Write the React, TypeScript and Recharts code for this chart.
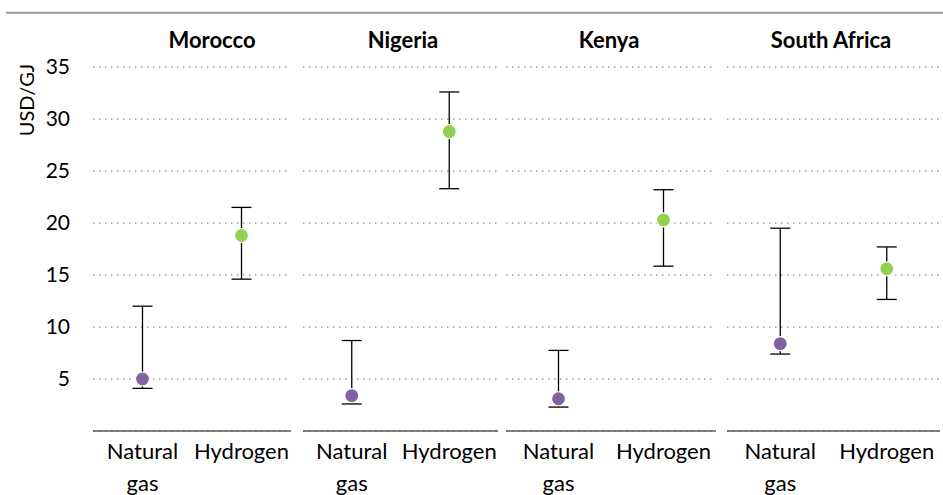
import React from "react";
import {
  ScatterChart,
  Scatter,
  XAxis,
  YAxis,
  CartesianGrid,
  ErrorBar,
} from "recharts";

// ---- data ----
const countries = ["Morocco", "Nigeria", "Kenya", "South Africa"];
const fuels = ["Natural gas", "Hydrogen"];
const gasMid = [5.0, 3.4, 3.1, 8.4];
const gasLow = [4.1, 2.6, 2.3, 7.4];
const gasHigh = [12.0, 8.7, 7.75, 19.5];
const h2Mid = [18.8, 28.8, 20.3, 15.6];
const h2Low = [14.6, 23.3, 15.85, 12.65];
const h2High = [21.5, 32.6, 23.2, 17.7];
const yTicks = [5, 10, 15, 20, 25, 30, 35];

// ---- styles / layout ----
const FONT = "Lato, 'Open Sans', sans-serif";
const fuelColors = ["#8064A2", "#92D050"];
const panelLayout = [
  { left: 0, width: 291, titleX: 212 },
  { left: 303, width: 195, titleX: 403 },
  { left: 506, width: 210, titleX: 609 },
  { left: 727, width: 213, titleX: 831 },
];
const H = 495;

function buildPanel(i: number) {
  return [
    {
      fuel: fuels[0],
      value: gasMid[i],
      err: [gasMid[i] - gasLow[i], gasHigh[i] - gasMid[i]],
      idx: 0,
    },
    {
      fuel: fuels[1],
      value: h2Mid[i],
      err: [h2Mid[i] - h2Low[i], h2High[i] - h2Mid[i]],
      idx: 1,
    },
  ];
}

const Dot = (props: any) => {
  const { cx, cy, payload } = props;
  if (cx == null || cy == null) return null;
  return (
    <circle
      cx={cx}
      cy={cy}
      r={7}
      fill={fuelColors[payload.idx]}
      stroke="#ffffff"
      strokeWidth={1.2}
    />
  );
};

const FuelTick = (props: any) => {
  const { x, y, payload } = props;
  const words = String(payload.value).split(" ");
  return (
    <text
      x={x}
      y={y}
      textAnchor="middle"
      fontFamily={FONT}
      fontSize={22}
      fill="#000"
    >
      {words.map((w, k) => (
        <tspan key={k} x={x} dy={k === 0 ? 28 : 32}>
          {w}
        </tspan>
      ))}
    </text>
  );
};

function Panel({ i }: { i: number }) {
  const lay = panelLayout[i];
  const first = i === 0;
  return (
    <div style={{ position: "absolute", left: lay.left, top: 0 }}>
      <ScatterChart
        width={lay.width}
        height={H}
        margin={{ top: 67, right: 0, bottom: 0, left: 0 }}
      >
        <CartesianGrid
          horizontal={true}
          vertical={false}
          stroke="#9a9a9a"
          strokeWidth={1.5}
          strokeDasharray="1.5 4.5"
        />
        <XAxis
          type="category"
          dataKey="fuel"
          height={64}
          axisLine={{ stroke: "#595959", strokeWidth: 1.3 }}
          tickLine={false}
          tickSize={0}
          tickMargin={0}
          tick={<FuelTick />}
          interval={0}
        />
        <YAxis
          type="number"
          dataKey="value"
          domain={[0, 35]}
          ticks={yTicks}
          hide={!first}
          width={first ? 93 : 0}
          axisLine={false}
          tickLine={false}
          tickSize={0}
          tickMargin={23}
          tick={{ fontFamily: FONT, fontSize: 21, fill: "#000" }}
          label={
            first
              ? {
                  content: () => (
                    <text
                      x={0}
                      y={0}
                      transform="translate(34,100) rotate(-90)"
                      textAnchor="middle"
                      fontFamily={FONT}
                      fontSize={20}
                      fill="#000"
                    >
                      USD/GJ
                    </text>
                  ),
                }
              : undefined
          }
        />
        <Scatter
          data={buildPanel(i)}
          dataKey="value"
          shape={<Dot />}
          isAnimationActive={false}
        >
          <ErrorBar
            dataKey="err"
            direction="y"
            width={10}
            stroke="#000"
            strokeWidth={1.3}
            isAnimationActive={false}
          />
        </Scatter>
      </ScatterChart>
    </div>
  );
}

export default function App() {
  return (
    <div
      style={{
        position: "absolute",
        left: 0,
        top: 0,
        width: 943,
        height: H,
        background: "#fff",
        overflow: "hidden",
      }}
    >
      {countries.map((_, i) => (
        <Panel key={i} i={i} />
      ))}
      <svg
        width={943}
        height={60}
        style={{ position: "absolute", left: 0, top: 0, pointerEvents: "none" }}
      >
        <line x1={6} x2={943} y1={12.7} y2={12.7} stroke="#9a9a9a" strokeWidth={2} />
        {countries.map((c, i) => (
          <text
            key={c}
            x={panelLayout[i].titleX}
            y={48}
            textAnchor="middle"
            fontFamily={FONT}
            fontSize={22}
            fontWeight="bold"
            fill="#000"
          >
            {c}
          </text>
        ))}
      </svg>
    </div>
  );
}
